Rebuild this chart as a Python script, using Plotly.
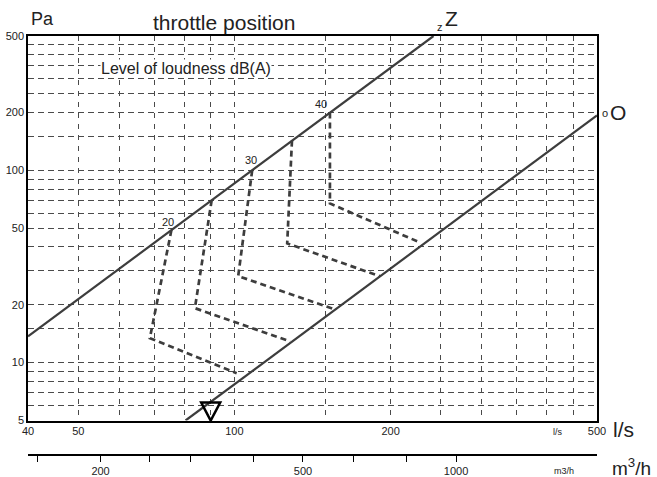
import numpy as np
import plotly.graph_objs as go

# air flow in l/s, pressure drop in Pa
z_flow = [40, 242]
z_pa = [13.7, 500]
o_flow = [80.5, 500]
o_pa = [5, 193]

# loudness curves (dB(A)): start on Z, drop, then run out towards O
c20_flow = [75.6, 68.7, 101]
c20_pa = [48.9, 13.4, 8.8]
c25_flow = [90.4, 83.9, 128]
c25_pa = [70, 19.2, 12.9]
c30_flow = [108.2, 101.7, 156.3]
c30_pa = [100, 28.2, 18.9]
c35_flow = [129.1, 126.4, 190.9]
c35_pa = [142.7, 41.7, 28.1]
c40_flow = [152.8, 152.8, 226.3]
c40_pa = [200, 67.3, 42.5]

nominal_flow = 90

x_ticks = [40, 50, 60, 70, 80, 90, 100, 150, 200, 250, 300, 350, 400, 450, 500]
x_labels = ["40", "50", "", "", "", "", "100", "", "200", "", "", "", "", "", "500"]
y_ticks = [5, 6, 7, 8, 9, 10, 15, 20, 30, 40, 50, 60, 70, 80, 90, 100, 150,
           200, 250, 300, 350, 400, 450, 500]
y_labels = ["5", "", "", "", "", "10", "", "20", "", "", "50", "", "", "", "", "100", "",
            "200", "", "", "", "", "", "500"]
m3h_ticks = [150, 200, 250, 300, 400, 500, 630, 800, 1000]
m3h_labels = ["", "200", "", "", "", "500", "", "", "1000"]

LINE = "#3d3d3d"
NARROW = "Liberation Sans Narrow, Arial Narrow, Liberation Sans, Arial"
SANS = "Liberation Sans, Arial, sans-serif"

fig = go.Figure()

for q, p in [(z_flow, z_pa), (o_flow, o_pa)]:
    fig.add_trace(go.Scatter(x=q, y=p, mode="lines", line={"color": LINE, "width": 2.2},
                             showlegend=False, hoverinfo="skip"))

for q, p in [(c20_flow, c20_pa), (c25_flow, c25_pa), (c30_flow, c30_pa),
             (c35_flow, c35_pa), (c40_flow, c40_pa)]:
    fig.add_trace(go.Scatter(x=q, y=p, mode="lines",
                             line={"color": LINE, "width": 2.7, "dash": "6px,4px"},
                             showlegend=False, hoverinfo="skip"))

# nothing drawn, only makes the m3/h axis show up
fig.add_trace(go.Scatter(x=[m3h_ticks[0], m3h_ticks[-1]], y=[5, 5], mode="none",
                         xaxis="x2", showlegend=False, hoverinfo="skip"))

# triangle marking the nominal flow on the bottom axis
fig.add_shape(type="path", xref="x", yref="y domain", xsizemode="pixel", ysizemode="pixel",
              xanchor=nominal_flow, yanchor=0, path="M-9.5,18 L9.5,18 L0,0 Z",
              line={"color": "black", "width": 2.5}, layer="above")

W, H = 657, 477
ml, mr, mt, mb = 28, 49, 36, 22
pw, ph = W - ml - mr, H - mt - mb


def px(x, y):
    return (x - ml) / pw, (H - mb - y) / ph


notes = [
    ("Pa", 42, 19, 18, SANS, None),
    ("throttle position", 224, 23, 21, SANS, None),
    ("z", 440, 27, 11, SANS, None),
    ("Z", 451, 19, 21, SANS, None),
    ("o", 605, 113, 11, SANS, None),
    ("O", 618, 112, 21, SANS, None),
    ("Level of loudness dB(A)", 186, 69, 16, SANS, "white"),
    ("20", 168, 222, 11, NARROW, None),
    ("30", 251, 160, 11, NARROW, None),
    ("40", 321, 104, 11, NARROW, None),
    ("l/s", 558, 432, 9, NARROW, None),
    ("l/s", 623, 429, 21, SANS, None),
    ("m3/h", 564, 471, 9, NARROW, None),
    ("m<sup>3</sup>/h", 631, 467, 19, SANS, None),
]
for text, x, y, size, fam, bg in notes:
    ax, ay = px(x, y)
    fig.add_annotation(text=text, x=ax, y=ay, xref="paper", yref="paper", showarrow=False,
                       xanchor="center", yanchor="middle",
                       font={"size": size, "family": fam, "color": "#222"},
                       bgcolor=bg, borderpad=0)

grid = {"showgrid": True, "gridcolor": "#4a4a4a", "gridwidth": 1}

fig.update_layout(
    width=W, height=H,
    margin={"l": ml, "r": mr, "t": mt, "b": mb, "pad": 0, "autoexpand": False},
    paper_bgcolor="white", plot_bgcolor="white",
    font={"family": NARROW, "size": 11, "color": "#222"},
    xaxis={"type": "log", "range": [np.log10(40), np.log10(500)], "domain": [0, 569 / pw],
           "tickvals": x_ticks, "ticktext": x_labels, "ticks": "", "griddash": "5px,6px",
           "showline": True, "linecolor": "black", "linewidth": 1.5, "mirror": True,
           "zeroline": False, "anchor": "y", "automargin": False, **grid},
    yaxis={"type": "log", "range": [np.log10(5), np.log10(500)], "domain": [34.5 / ph, 1],
           "tickvals": y_ticks, "ticktext": y_labels, "ticks": "", "griddash": "6px,4px",
           "showline": True, "linecolor": "black", "linewidth": 1.5, "mirror": True,
           "zeroline": False, "anchor": "x", "automargin": False, **grid},
    xaxis2={"type": "log", "overlaying": "x", "anchor": "free", "position": 0,
            "domain": [0, 1], "range": [np.log10(144), np.log10(1893)],
            "tickvals": m3h_ticks, "ticktext": m3h_labels, "ticks": "outside", "ticklen": 6,
            "tickcolor": "black", "tickwidth": 1, "showline": True, "linecolor": "black",
            "linewidth": 1.5, "showgrid": False, "zeroline": False, "side": "bottom",
            "automargin": False},
)

fig.write_html("out.html", config={"displayModeBar": False},
               post_script="document.body.style.margin='0';")
